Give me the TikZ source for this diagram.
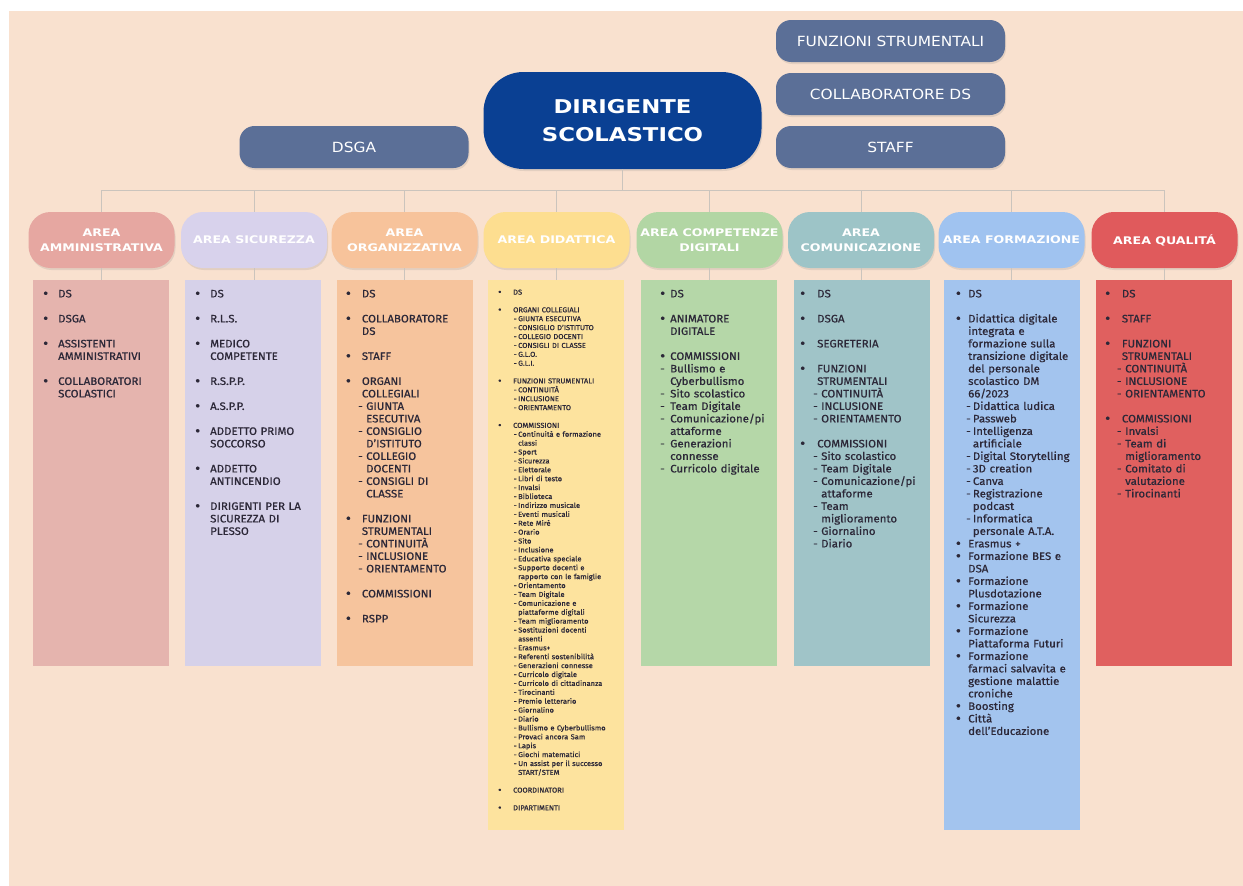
\documentclass[tikz,border=0pt]{standalone}
\usepackage{fontspec}
\setmainfont{Fira Sans}[FakeBold=0.7,FakeStretch=1.06]
\newfontfamily\hdfont{DejaVu Sans}[FakeStretch=1.2]
\newfontfamily\slfont{DejaVu Sans}[FakeStretch=1.1]
\usetikzlibrary{shadows}
\definecolor{bgpeach}{HTML}{F9E1CF}
\definecolor{dsblue}{RGB}{10,64,147}
\definecolor{slateblue}{HTML}{5B6F97}
\definecolor{linegray}{HTML}{CBC4BD}
\definecolor{txtcol}{HTML}{2C2838}
\definecolor{hA}{HTML}{E6A7A1}\definecolor{cA}{HTML}{E5B4AE}
\definecolor{hB}{HTML}{D8D2EC}\definecolor{cB}{HTML}{D6D1E9}
\definecolor{hC}{HTML}{F7C39B}\definecolor{cC}{HTML}{F6C49D}
\definecolor{hD}{HTML}{FDDE90}\definecolor{cD}{HTML}{FDE39E}
\definecolor{hE}{HTML}{B2D6A4}\definecolor{cE}{HTML}{B5D7A8}
\definecolor{hF}{HTML}{9DC4C7}\definecolor{cF}{HTML}{A0C4C8}
\definecolor{hG}{HTML}{A0C3F0}\definecolor{cG}{HTML}{A3C4EE}
\definecolor{hH}{HTML}{E05A5C}\definecolor{cH}{HTML}{E0605F}
\newlength\Lt \newlength\Ld \newlength\Ls \newlength\Lg
\newcommand\Setcol[4]{\setlength\Lt{#1pt}\setlength\Ld{#2pt}\setlength\Ls{#3pt}\setlength\Lg{#4pt}}
\newcommand\Bul{\raisebox{-0.08em}{\scalebox{1.35}{\textbullet}}}
\newcommand\Bi[1]{\par\noindent\hangindent=\Lt\hangafter=1\makebox[\Lt][l]{\Bul}#1}
\newcommand\Su[1]{\par\noindent\hangindent=\Ls\hangafter=1\hspace*{\Ld}\makebox[\dimexpr\Ls-\Ld\relax][l]{-}#1}
\newcommand\Gp{\par\vspace{\Lg}}
\newcommand\lbrk{\newline}
\begin{document}
\begin{tikzpicture}[x=1pt,y=-1pt,
  shad/.style={drop shadow={shadow xshift=1pt,shadow yshift=-2pt,opacity=0.18}},
  slate/.style={shad,rounded corners=15pt,fill=slateblue,text=white,inner sep=0pt,
    minimum width=229pt,minimum height=42pt,font=\slfont\fontsize{14}{16}\selectfont},
  head/.style={shad,rounded corners=22pt,inner sep=0pt,align=center,text=white,
    minimum width=146pt,minimum height=56pt,font=\hdfont\bfseries\fontsize{10.5}{15.3}\selectfont},
  cbox/.style={anchor=north west,inner sep=0pt,minimum width=136pt,minimum height=#1},
  ctext/.style={anchor=north west,inner sep=0pt,text width=140pt,text=txtcol,
    font=\fontsize{10.8}{12.5}\selectfont},
  stext/.style={anchor=north west,inner sep=0pt,text width=140pt,text=txtcol,
    font=\fontsize{7.1}{8.9}\selectfont},
  conn/.style={draw=linegray,line width=0.9pt}]
\useasboundingbox (0,0) rectangle (1243,886);
\fill[white] (0,0) rectangle (1243,886);
\fill[bgpeach] (9,11) rectangle (1243,886);

% top nodes
\node[shad,rounded corners=40pt,fill=dsblue,text=white,inner sep=0pt,align=center,
  minimum width=278pt,minimum height=97pt,font=\hdfont\bfseries\fontsize{19}{28}\selectfont]
  (ds) at (622.5,120.5) {DIRIGENTE\\SCOLASTICO};
\node[slate] (dsga) at (354,147) {DSGA};
\node[slate] (fs) at (890.5,41) {FUNZIONI STRUMENTALI};
\node[slate] (cds) at (890.5,94) {COLLABORATORE DS};
\node[slate] (staff) at (890.5,147) {STAFF};

% headers
\node[head,fill=hA] (h1) at (101.5,240) {AREA\\AMMINISTRATIVA};
\node[head,fill=hB] (h2) at (254,240) {AREA SICUREZZA};
\node[head,fill=hC] (h3) at (404.5,240) {AREA\\ORGANIZZATIVA};
\node[head,fill=hD] (h4) at (556.5,240) {AREA DIDATTICA};
\node[head,fill=hE] (h5) at (709.5,240) {AREA COMPETENZE\\DIGITALI};
\node[head,fill=hF] (h6) at (861,240) {AREA\\COMUNICAZIONE};
\node[head,fill=hG] (h7) at (1011.5,240) {AREA FORMAZIONE};
\node[head,fill=hH] (h8) at (1164.5,240) {AREA QUALITÁ};

% content boxes
\node[cbox=386pt,fill=cA] (c1) at (33,280) {};
\node[cbox=386pt,fill=cB] (c2) at (185,280) {};
\node[cbox=386pt,fill=cC] (c3) at (337,280) {};
\node[cbox=550pt,fill=cD] (c4) at (488,280) {};
\node[cbox=386pt,fill=cE] (c5) at (641,280) {};
\node[cbox=386pt,fill=cF] (c6) at (794,280) {};
\node[cbox=550pt,fill=cG] (c7) at (944,280) {};
\node[cbox=386pt,fill=cH] (c8) at (1096,280) {};

% connectors
\coordinate (bus) at (0,190);
\draw[conn] (ds.south) -- (ds.south |- bus);
\draw[conn] (h1.north |- bus) -- (h8.north |- bus);
\foreach \i in {1,...,8}{
  \draw[conn] (h\i.north |- bus) -- (h\i.north);
  \draw[conn] (h\i.south) -- (h\i.south |- c\i.north);
}

% texts
\node[ctext] (t1) at (43,284.7) {\Setcol{15}{0}{15}{12.5}%
\Bi{DS}\Gp\Bi{DSGA}\Gp\Bi{ASSISTENTI\lbrk AMMINISTRATIVI}\Gp\Bi{COLLABORATORI\lbrk SCOLASTICI}\par};

\node[ctext] (t2) at (195,284.7) {\Setcol{15}{0}{15}{12.5}%
\Bi{DS}\Gp\Bi{R.L.S.}\Gp\Bi{MEDICO\lbrk COMPETENTE}\Gp\Bi{R.S.P.P.}\Gp\Bi{A.S.P.P.}\Gp
\Bi{ADDETTO PRIMO\lbrk SOCCORSO}\Gp\Bi{ADDETTO\lbrk ANTINCENDIO}\Gp
\Bi{DIRIGENTI PER LA\lbrk SICUREZZA DI\lbrk PLESSO}\par};

\node[ctext] (t3) at (345.7,284.7) {\Setcol{16}{12.3}{20.3}{12.5}%
\Bi{DS}\Gp\Bi{COLLABORATORE\lbrk DS}\Gp\Bi{STAFF}\Gp
\Bi{ORGANI\lbrk COLLEGIALI}\Su{GIUNTA\lbrk ESECUTIVA}\Su{CONSIGLIO\lbrk D’ISTITUTO}%
\Su{COLLEGIO\lbrk DOCENTI}\Su{CONSIGLI DI\lbrk CLASSE}\Gp
\Bi{FUNZIONI\lbrk STRUMENTALI}\Su{CONTINUITÀ}\Su{INCLUSIONE}\Su{ORIENTAMENTO}\Gp
\Bi{COMMISSIONI}\Gp\Bi{RSPP}\par};

\node[stext] (t4) at (498,285.5) {\Setcol{15}{15.5}{20}{8.8}%
\Bi{DS}\Gp
\Bi{ORGANI COLLEGIALI}\Su{GIUNTA ESECUTIVA}\Su{CONSIGLIO D’ISTITUTO}\Su{COLLEGIO DOCENTI}%
\Su{CONSIGLI DI CLASSE}\Su{G.L.O.}\Su{G.L.I.}\Gp
\Bi{FUNZIONI STRUMENTALI}\Su{CONTINUITÀ}\Su{INCLUSIONE}\Su{ORIENTAMENTO}\Gp
\Bi{COMMISSIONI}\Su{Continuità e formazione\lbrk classi}\Su{Sport}\Su{Sicurezza}%
\Su{Elettorale}\Su{Libri di testo}\Su{Invalsi}\Su{Biblioteca}\Su{Indirizzo musicale}%
\Su{Eventi musicali}\Su{Rete Mirè}\Su{Orario}\Su{Sito}\Su{Inclusione}%
\Su{Educativa speciale}\Su{Supporto docenti e\lbrk rapporto con le famiglie}%
\Su{Orientamento}\Su{Team Digitale}\Su{Comunicazione e\lbrk piattaforme digitali}%
\Su{Team miglioramento}\Su{Sostituzioni docenti\lbrk assenti}\Su{Erasmus+}%
\Su{Referenti sostenibilità}\Su{Generazioni connesse}\Su{Curricolo digitale}%
\Su{Curricolo di cittadinanza}\Su{Tirocinanti}\Su{Premio letterario}\Su{Giornalino}%
\Su{Diario}\Su{Bullismo e Cyberbullismo}\Su{Provaci ancora Sam}\Su{Lapis}%
\Su{Giochi matematici}\Su{Un assist per il successo\lbrk START/STEM}\Gp
\Bi{COORDINATORI}\Gp\Bi{DIPARTIMENTI}\par};

\node[ctext] (t5) at (660,284.7) {\Setcol{10}{0}{10}{12.5}%
\Bi{DS}\Gp\Bi{ANIMATORE\lbrk DIGITALE}\Gp
\Bi{COMMISSIONI}\Su{Bullismo e\lbrk Cyberbullismo}\Su{Sito scolastico}\Su{Team Digitale}%
\Su{Comunicazione/pi\lbrk attaforme}\Su{Generazioni\lbrk connesse}\Su{Curricolo digitale}\par};

\node[ctext] (t6) at (800,284.7) {\Setcol{17}{13}{21}{12.5}%
\Bi{DS}\Gp\Bi{DSGA}\Gp\Bi{SEGRETERIA}\Gp
\Bi{FUNZIONI\lbrk STRUMENTALI}\Su{CONTINUITÀ}\Su{INCLUSIONE}\Su{ORIENTAMENTO}\Gp
\Bi{COMMISSIONI}\Su{Sito scolastico}\Su{Team Digitale}\Su{Comunicazione/pi\lbrk attaforme}%
\Su{Team\lbrk miglioramento}\Su{Giornalino}\Su{Diario}\par};

\node[ctext] (t7) at (955.7,284.7) {\Setcol{12.3}{10.3}{17}{12.5}%
\Bi{DS}\Gp
\Bi{Didattica digitale\lbrk integrata e\lbrk formazione sulla\lbrk transizione digitale\lbrk del personale\lbrk scolastico DM\lbrk 66/2023}%
\Su{Didattica ludica}\Su{Passweb}\Su{Intelligenza\lbrk artificiale}\Su{Digital Storytelling}%
\Su{3D creation}\Su{Canva}\Su{Registrazione\lbrk podcast}\Su{Informatica\lbrk personale A.T.A.}%
\Bi{Erasmus +}\Bi{Formazione BES e\lbrk DSA}\Bi{Formazione\lbrk Plusdotazione}%
\Bi{Formazione\lbrk Sicurezza}\Bi{Formazione\lbrk Piattaforma Futuri}%
\Bi{Formazione\lbrk farmaci salvavita e\lbrk gestione malattie\lbrk croniche}%
\Bi{Boosting}\Bi{Città\lbrk dell’Educazione}\par};

\node[ctext] (t8) at (1105,284.7) {\Setcol{16.7}{11.7}{20}{12.5}%
\Bi{DS}\Gp\Bi{STAFF}\Gp
\Bi{FUNZIONI\lbrk STRUMENTALI}\Su{CONTINUITÀ}\Su{INCLUSIONE}\Su{ORIENTAMENTO}\Gp
\Bi{COMMISSIONI}\Su{Invalsi}\Su{Team di\lbrk miglioramento}\Su{Comitato di\lbrk valutazione}%
\Su{Tirocinanti}\par};
\end{tikzpicture}
\end{document}
